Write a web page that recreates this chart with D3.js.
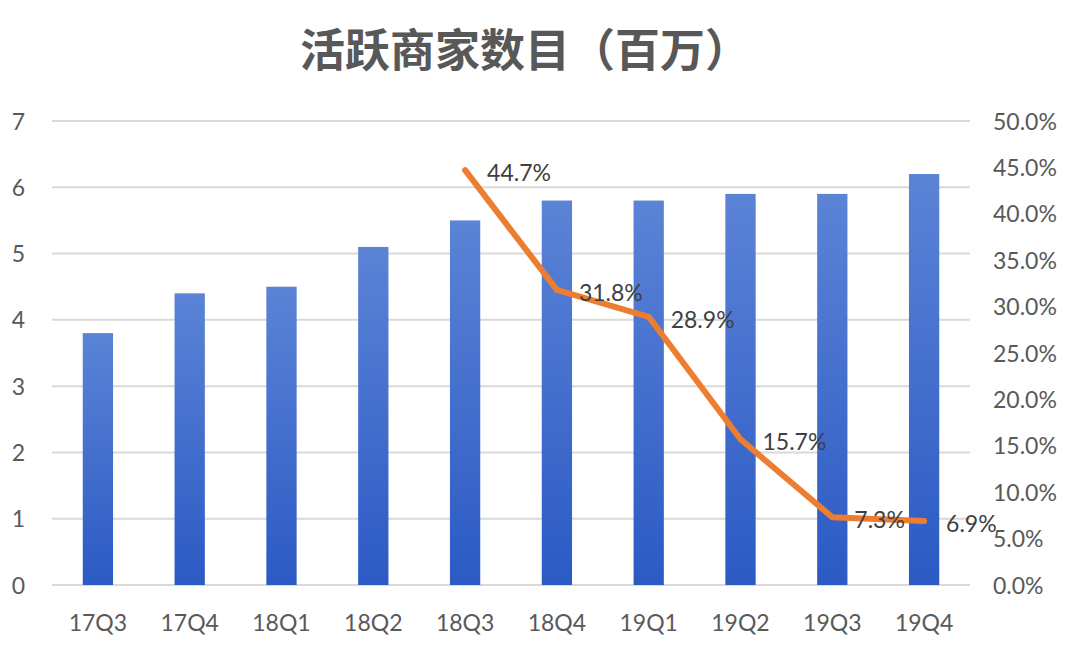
<!DOCTYPE html>
<html><head><meta charset="utf-8">
<script src="https://cdn.jsdelivr.net/npm/d3@7"></script>
<style>html,body{margin:0;padding:0;background:#fff;}svg{display:block;}</style>
</head><body>
<svg id="c" width="1080" height="658"></svg>
<script>
const categories = ["17Q3","17Q4","18Q1","18Q2","18Q3","18Q4","19Q1","19Q2","19Q3","19Q4"];
const merchants = [3.8,4.4,4.5,5.1,5.5,5.8,5.8,5.9,5.9,6.2];
const growthCats = ["18Q3","18Q4","19Q1","19Q2","19Q3","19Q4"];
const growth = [0.447,0.318,0.289,0.157,0.073,0.069];
const leftTicks = [0,1,2,3,4,5,6,7];
const rightTicks = [0,0.05,0.1,0.15,0.2,0.25,0.3,0.35,0.4,0.45,0.5];
const title = "活跃商家数目（百万）";

const svg = d3.select("#c");
const font = "Lato, 'Open Sans', 'Noto Sans', sans-serif";
const L = 52, R = 970, T = 121, B = 585;
const x = d3.scaleBand().domain(categories).range([L, R]).paddingInner(0.67).paddingOuter(0.335);
const yL = d3.scaleLinear().domain([0,7]).range([B, T]);
const yR = d3.scaleLinear().domain([0,0.5]).range([B, T]);

const defs = svg.append("defs");
const g = defs.append("linearGradient").attr("id","bg").attr("x1",0).attr("y1",0).attr("x2",0).attr("y2",1);
g.append("stop").attr("offset","0%").attr("stop-color","#5b83d6");
g.append("stop").attr("offset","100%").attr("stop-color","#2c5ac4");

svg.append("text").attr("x",525).attr("y",67).attr("text-anchor","middle")
  .attr("font-family","'Noto Sans CJK SC', sans-serif").attr("font-weight","bold")
  .attr("font-size",45).attr("fill","#585858").text(title);

// gridlines
svg.append("g").selectAll("line").data(leftTicks).join("line")
  .attr("x1",L).attr("x2",R).attr("y1",d=>yL(d)).attr("y2",d=>yL(d))
  .attr("stroke","#d9d9d9").attr("stroke-width",2);

// left axis
const la = svg.append("g").attr("transform",`translate(${L-27},0)`)
  .call(d3.axisLeft(yL).tickValues(leftTicks).tickSize(0).tickPadding(0).tickFormat(d3.format("d")));
la.select(".domain").remove();
la.selectAll("text").attr("font-family",font).attr("font-size",23).attr("fill","#595959").attr("dy","0.35em");

// right axis
const ra = svg.append("g").attr("transform",`translate(${R+23},0)`)
  .call(d3.axisRight(yR).tickValues(rightTicks).tickSize(0).tickPadding(0).tickFormat(d3.format(".1%")));
ra.select(".domain").remove();
ra.selectAll("text").attr("font-family",font).attr("font-size",23).attr("fill","#595959").attr("dy","0.35em");

// bars
svg.append("g").selectAll("rect").data(categories).join("rect")
  .attr("x",d=>x(d)).attr("width",x.bandwidth())
  .attr("y",(d,i)=>yL(merchants[i])).attr("height",(d,i)=>yL(0)-yL(merchants[i]))
  .attr("fill","url(#bg)");

// x axis
const xa = svg.append("g").attr("transform",`translate(0,${B+30})`)
  .call(d3.axisBottom(x).tickSize(0).tickPadding(0));
xa.select(".domain").remove();
xa.selectAll("text").attr("font-family",font).attr("font-size",23).attr("fill","#595959").attr("dy","0.71em");

// line
const cx = d => x(d) + x.bandwidth()/2;
const line = d3.line().x((d,i)=>cx(growthCats[i])).y(d=>yR(d));
svg.append("path").datum(growth).attr("d",line).attr("fill","none")
  .attr("stroke","#ed7d31").attr("stroke-width",6).attr("stroke-linejoin","round").attr("stroke-linecap","round");

svg.append("g").selectAll("text").data(growth).join("text")
  .attr("x",(d,i)=>cx(growthCats[i])+22).attr("y",d=>yR(d)+3).attr("dy","0.35em")
  .attr("font-family",font).attr("font-size",23).attr("fill","#404040")
  .text(d=>d3.format(".1%")(d));
</script>
</body></html>
